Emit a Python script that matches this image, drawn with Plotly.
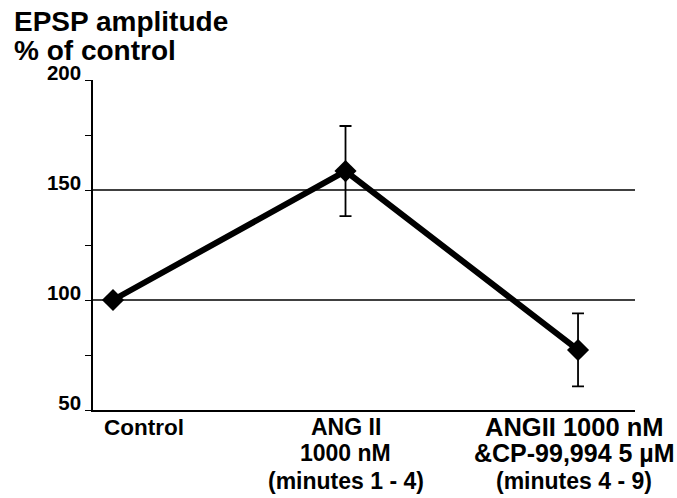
import plotly.graph_objects as go

categories = ["Control", "ANG II", "ANGII+CP"]
cat_label_lines = [
    ["Control"],
    ["ANG II", "1000 nM", "(minutes 1 - 4)"],
    ["ANGII 1000 nM", "&CP-99,994 5 µM", "(minutes 4 - 9)"],
]
values = [100, 158.6, 77.3]
errors = [0, 20.5, 16.6]
y_ticks = [50, 100, 150, 200]
gridlines = [100, 150]
title_lines = ["EPSP amplitude", "% of control"]

xpos = list(range(len(categories)))
FONT = "Liberation Sans, Arial, sans-serif"

fig = go.Figure()
fig.add_trace(go.Scatter(
    x=xpos, y=values, mode="lines+markers",
    line=dict(color="black", width=6),
    marker=dict(symbol="diamond", size=17, color="black"),
    error_y=dict(type="data", array=errors, visible=True,
                 color="black", thickness=1.8, width=6),
    showlegend=False,
))

shapes = [dict(type="line", xref="paper", x0=0, x1=1, yref="y", y0=g, y1=g,
               line=dict(color="black", width=1.3), layer="below")
          for g in gridlines]

annotations = []
xshifts = [-11, 0, -4]
anchors = ["left", "center", "center"]
line_sizes = [[22.5], [23, 23, 23], [25.5, 25, 23]]
line_yshift = [-17, -43, -71]
for i, lines in enumerate(cat_label_lines):
    for j, txt in enumerate(lines):
        annotations.append(dict(
            x=xpos[i], xref="x", y=0, yref="paper", yanchor="middle",
            xanchor=anchors[i], xshift=xshifts[i], yshift=line_yshift[j],
            text=txt, showarrow=False, align="center",
            font=dict(family=FONT, size=line_sizes[i][j], color="black",
                      weight="bold"),
        ))
title_yshift = [59, 29.5]
for j, txt in enumerate(title_lines):
    annotations.append(dict(
        x=0, xref="paper", xanchor="left", xshift=-81,
        y=1, yref="paper", yanchor="middle", yshift=title_yshift[j],
        text=txt, showarrow=False, align="left",
        font=dict(family=FONT, size=28, color="black", weight="bold"),
    ))

fig.update_layout(
    width=677, height=498,
    margin=dict(l=93, r=42, t=80, b=88),
    paper_bgcolor="white", plot_bgcolor="white",
    shapes=shapes, annotations=annotations,
    xaxis=dict(range=[-0.086, 2.245], showticklabels=False, ticks="",
               showgrid=False, zeroline=False, showline=True,
               linecolor="black", linewidth=1.5),
    yaxis=dict(range=[50, 200], tickvals=y_ticks, ticks="outside",
               ticklen=6, tickwidth=1.2, tickcolor="black",
               ticklabelshift=-7,
               minor=dict(dtick=25, tick0=0, ticks="outside", ticklen=6,
                          tickwidth=1.2, tickcolor="black", showgrid=False),
               showgrid=False, zeroline=False, showline=True,
               linecolor="black", linewidth=1.5,
               tickfont=dict(family=FONT, size=20.5, color="black", weight="bold")),
)

fig.write_html("out.html")
